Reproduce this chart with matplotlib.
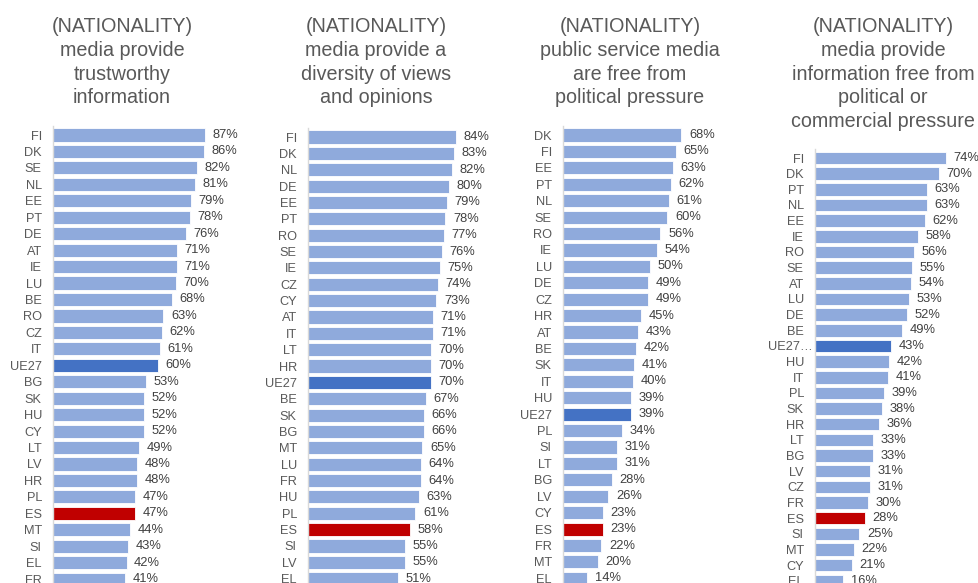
import matplotlib
matplotlib.use("Agg")
import matplotlib.pyplot as plt
from matplotlib.transforms import ScaledTranslation

plt.rcParams['font.family'] = ['Liberation Sans', 'DejaVu Sans']

W, H = 979, 583

cats1 = ["FI", "DK", "SE", "NL", "EE", "PT", "DE", "AT", "IE", "LU", "BE", "RO", "CZ", "IT",
         "UE27", "BG", "SK", "HU", "CY", "LT", "LV", "HR", "PL", "ES", "MT", "SI", "EL", "FR"]
vals1 = [87, 86, 82, 81, 79, 78, 76, 71, 71, 70, 68, 63, 62, 61,
         60, 53, 52, 52, 52, 49, 48, 48, 47, 47, 44, 43, 42, 41]

cats2 = ["FI", "DK", "NL", "DE", "EE", "PT", "RO", "SE", "IE", "CZ", "CY", "AT", "IT", "LT",
         "HR", "UE27", "BE", "SK", "BG", "MT", "LU", "FR", "HU", "PL", "ES", "SI", "LV", "EL"]
vals2 = [84, 83, 82, 80, 79, 78, 77, 76, 75, 74, 73, 71, 71, 70,
         70, 70, 67, 66, 66, 65, 64, 64, 63, 61, 58, 55, 55, 51]

cats3 = ["DK", "FI", "EE", "PT", "NL", "SE", "RO", "IE", "LU", "DE", "CZ", "HR", "AT", "BE",
         "SK", "IT", "HU", "UE27", "PL", "SI", "LT", "BG", "LV", "CY", "ES", "FR", "MT", "EL"]
vals3 = [68, 65, 63, 62, 61, 60, 56, 54, 50, 49, 49, 45, 43, 42,
         41, 40, 39, 39, 34, 31, 31, 28, 26, 23, 23, 22, 20, 14]

cats4 = ["FI", "DK", "PT", "NL", "EE", "IE", "RO", "SE", "AT", "LU", "DE", "BE", "UE27…", "HU",
         "IT", "PL", "SK", "HR", "LT", "BG", "LV", "CZ", "FR", "ES", "SI", "MT", "CY", "EL"]
vals4 = [74, 70, 63, 63, 62, 58, 56, 55, 54, 53, 52, 49, 43, 42,
         41, 39, 38, 36, 33, 33, 31, 31, 30, 28, 25, 22, 21, 16]

titles = [
    ["(NATIONALITY)", "media provide", "trustworthy", "information"],
    ["(NATIONALITY)", "media provide a", "diversity of views", "and opinions"],
    ["(NATIONALITY)", "public service media", "are free from", "political pressure"],
    ["(NATIONALITY)", "media provide", "information free from", "political or", "commercial pressure"],
]

# layout per panel: bar left px, first bar center px, pitch px, px per %, title center x
layout = [
    (53, 135, 16.45, 1.75, 122),
    (308, 137, 16.36, 1.76, 376),
    (563, 135, 16.42, 1.74, 630),
    (815, 158, 15.66, 1.77, 883),
]

C_MAIN = "#8FAADC"
C_EU = "#4472C4"
C_ES = "#C00000"

fig = plt.figure(figsize=(W / 100, H / 100), dpi=100)

panels = [(cats1, vals1), (cats2, vals2), (cats3, vals3), (cats4, vals4)]
for (cats, vals), (left, first, pitch, scale, tx), title in zip(panels, layout, titles):
    top_idx = -0.55
    top_px = first + top_idx * pitch
    bottom_idx = (H - first) / pitch
    xmax = 90
    ax = fig.add_axes([left / W, 0, xmax * scale / W, (H - top_px) / H])
    colors = []
    for c in cats:
        if c.startswith("UE27"):
            colors.append(C_EU)
        elif c == "ES":
            colors.append(C_ES)
        else:
            colors.append(C_MAIN)
    y = list(range(len(cats)))
    ax.barh(y, vals, height=0.80, color=colors, edgecolor="white", linewidth=0.6)
    ax.set_xlim(0, xmax)
    ax.set_ylim(bottom_idx, top_idx)
    ax.set_yticks(y)
    ax.set_yticklabels(cats, fontsize=9.2, color="#595959")
    ax.tick_params(axis="y", length=0, pad=8)
    for lab in ax.get_yticklabels():
        if lab.get_text().endswith("…"):
            lab.set_transform(lab.get_transform() + ScaledTranslation(9 / 100, 0, fig.dpi_scale_trans))
    ax.set_xticks([])
    for s in ["top", "right", "bottom"]:
        ax.spines[s].set_visible(False)
    ax.spines["left"].set_color("#D9D9D9")
    ax.spines["left"].set_linewidth(1.0)
    ax.patch.set_alpha(0)
    for i, v in enumerate(vals):
        ax.annotate(f"{v}%", (v, i), xytext=(5.5, 0), textcoords="offset points",
                    va="center", ha="left", fontsize=9.3, color="#404040",
                    annotation_clip=False)
    for k, line in enumerate(title):
        base_px = 32.3 + k * 23.7
        fig.text(tx / W, 1 - base_px / H, line, ha="center", va="baseline",
                 fontsize=14.2, color="#595959")

fig.savefig("out.png", dpi=100)
